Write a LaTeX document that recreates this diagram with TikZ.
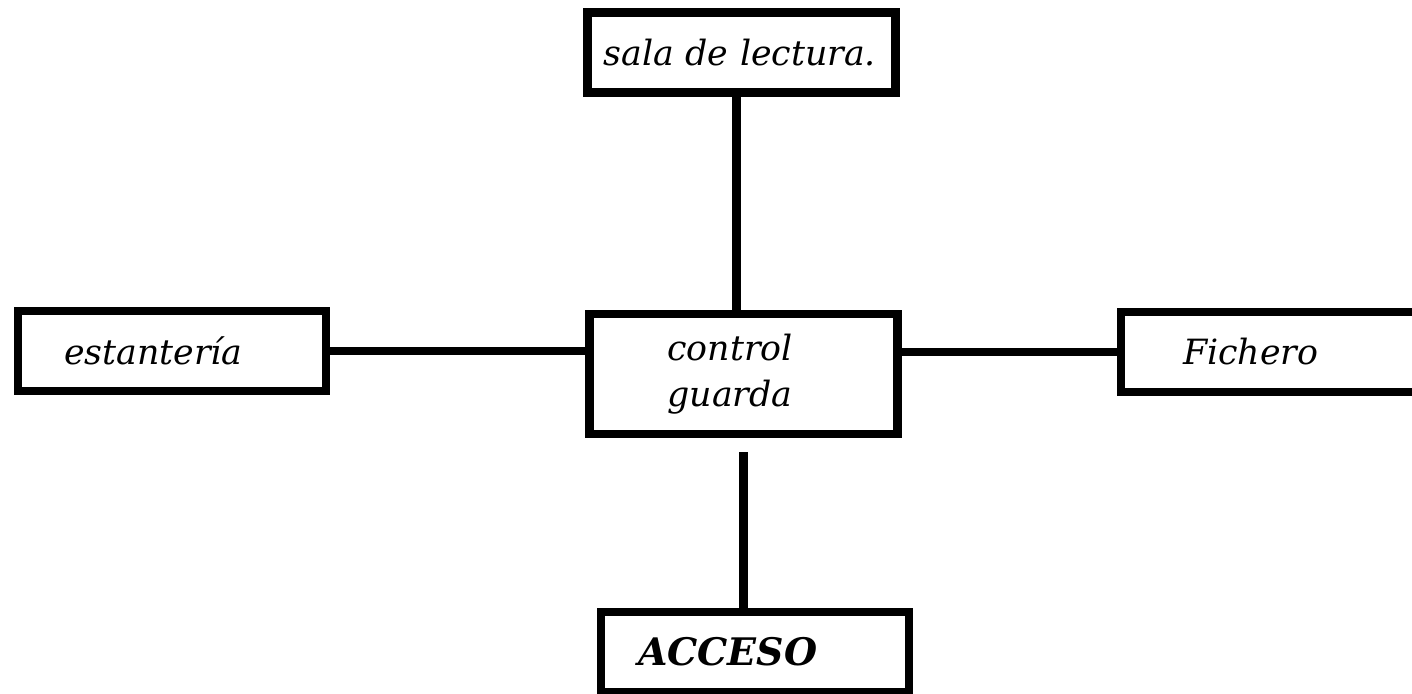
\documentclass[tikz,border=0pt]{standalone}
\usepackage{fontspec}
\setmainfont{DejaVu Serif}

\tikzset{
    caja/.style={draw, line width=2.4pt, minimum height=0.80cm, align=left,
        font=\itshape\fontsize{9.9}{13}\selectfont},
    linea/.style={line width=2.4pt}
}

\begin{document}
\begin{tikzpicture}
    \useasboundingbox[fill=white] (0,0) rectangle (14.12,6.94);

    % cajas
    \node[caja, inner xsep=0.16cm, text width=2.76cm] (sala) at (7.415,6.415) {sala de lectura.};
    \node[caja, inner xsep=0.46cm, text width=2.16cm] (estanteria) at (1.72,3.43) {estantería};
    \node[caja, inner xsep=0.78cm, text width=1.52cm, minimum height=1.20cm] (control) at (7.435,3.20) {control\\guarda};
    \node[caja, inner xsep=0.62cm, text width=1.84cm] (fichero) at (12.75,3.42) {Fichero};
    \node[caja, inner xsep=0.37cm, text width=2.34cm,
        font=\bfseries\itshape\fontsize{10.8}{13}\selectfont] (acceso) at (7.55,0.42) {ACCESO};

    % conexiones
    \draw[linea] ([xshift=-0.05cm]sala.south) -- ([xshift=-0.05cm]sala.south |- control.north);
    \draw[linea] (estanteria.east) -- (estanteria.east -| control.west);
    \draw[linea] (fichero.west -| control.east) -- (fichero.west);
    \draw[linea] ([yshift=-4pt]control.south) -- (control.south |- acceso.north);
\end{tikzpicture}
\end{document}
